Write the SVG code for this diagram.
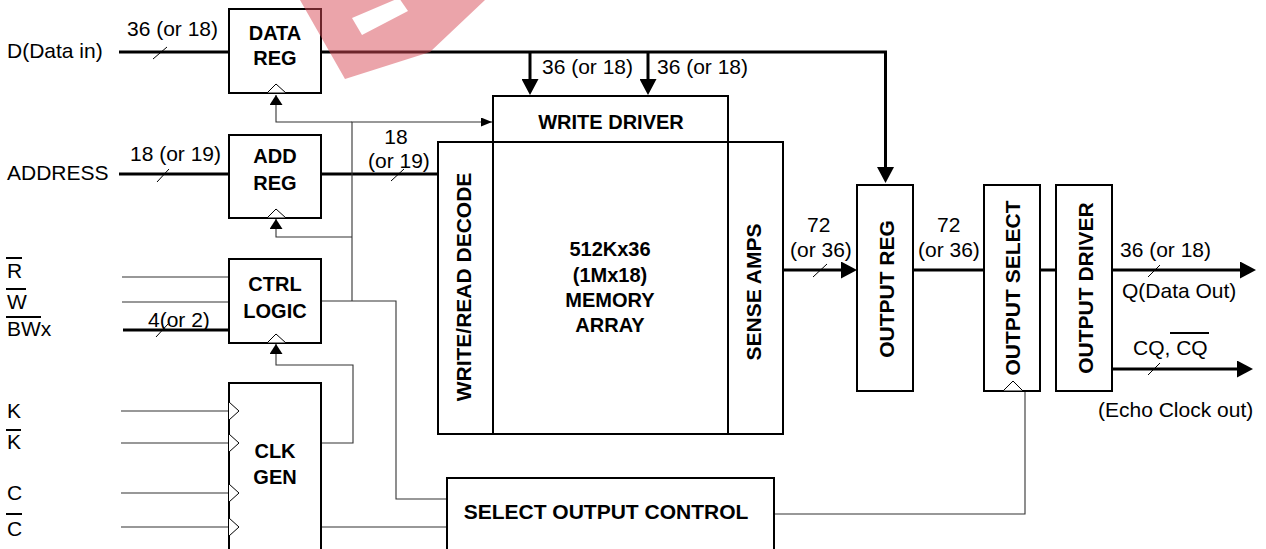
<svg xmlns="http://www.w3.org/2000/svg" width="1266" height="549" viewBox="0 0 1266 549">
<style>
text{font-family:"Liberation Sans",Arial,sans-serif;fill:#000}
.r{font-size:21px}
.b{font-size:20px;font-weight:bold;text-anchor:middle}
.v{font-size:21px;font-weight:bold;text-anchor:middle}
.box{fill:#fff;stroke:#000;stroke-width:2}
.clk{fill:#fff;stroke:#000;stroke-width:1}
.bus{fill:none;stroke:#000;stroke-width:3}
.thin{fill:none;stroke:#333;stroke-width:1.1}
.tick{stroke:#000;stroke-width:1}
.ovl{stroke:#000;stroke-width:2}
</style>
<defs>
<marker id="ahB" markerUnits="userSpaceOnUse" viewBox="0 0 16 17" refX="12" refY="8.5" markerWidth="16" markerHeight="17" orient="auto"><path d="M0,0 L16,8.5 L0,17 Z" fill="#000"/></marker>
<marker id="ahS" markerUnits="userSpaceOnUse" viewBox="0 0 11 9" refX="11" refY="4.5" markerWidth="11" markerHeight="9" orient="auto"><path d="M0,0 L11,4.5 L0,9 Z" fill="#000"/></marker>
<marker id="ahU" markerUnits="userSpaceOnUse" viewBox="0 0 10 13" refX="10" refY="6.5" markerWidth="10" markerHeight="13" orient="auto"><path d="M0,0 L10,6.5 L0,13 Z" fill="#000"/></marker>
</defs>
<rect width="1266" height="549" fill="#fff"/>

<g id="connectors">
<path class="bus" d="M119,52 H229"/>
<path class="bus" d="M119,174 H229"/>
<path class="bus" d="M123,330 H229"/>
<path class="bus" d="M321,52 H885.5 V179" marker-end="url(#ahB)"/>
<path class="bus" d="M530,52 V91" marker-end="url(#ahB)"/>
<path class="bus" d="M648,52 V91" marker-end="url(#ahB)"/>
<path class="bus" d="M321,174 H438"/>
<path class="bus" d="M783,270 H853" marker-end="url(#ahB)"/>
<path class="bus" d="M913,270 H984"/>
<path class="bus" d="M1040,270 H1056"/>
<path class="bus" d="M1112,270 H1252" marker-end="url(#ahB)"/>
<path class="bus" d="M1112,369 H1249" marker-end="url(#ahB)"/>
<path class="thin" d="M122,277 H229"/>
<path class="thin" d="M122,302 H229"/>
<path class="thin" d="M121,411 H229"/>
<path class="thin" d="M121,443 H229"/>
<path class="thin" d="M121,493 H229"/>
<path class="thin" d="M121,527 H229"/>
<path class="thin" d="M321,527 H447"/>
<path class="thin" d="M321,443 H353 V365 H276 V344" marker-end="url(#ahU)"/>
<path class="thin" d="M321,301 H396 V499 H447"/>
<path class="thin" d="M352,301 V122 H492" marker-end="url(#ahS)"/>
<path class="thin" d="M352,122 H276 V95" marker-end="url(#ahU)"/>
<path class="thin" d="M352,237 H276 V219" marker-end="url(#ahU)"/>
<path class="thin" d="M774,514 H1025 V391"/>
<line class="tick" x1="153" y1="59" x2="167" y2="47"/>
<line class="tick" x1="157" y1="182" x2="169" y2="169"/>
<line class="tick" x1="156" y1="337" x2="168" y2="324"/>
<line class="tick" x1="391" y1="181" x2="404" y2="169"/>
<line class="tick" x1="813" y1="277" x2="827" y2="264"/>
<line class="tick" x1="1148" y1="277" x2="1160" y2="265"/>
<line class="tick" x1="1148" y1="375" x2="1160" y2="363"/>
</g>

<g id="labels">
<text class="r" x="7" y="58">D(Data in)</text>
<text class="r" x="127" y="36">36 (or 18)</text>
<text class="r" x="7" y="180">ADDRESS</text>
<text class="r" x="130" y="161">18 (or 19)</text>
<text class="r" x="396" y="144" text-anchor="middle">18</text>
<text class="r" x="368" y="168">(or 19)</text>
<text class="r" x="7" y="278">R</text><line class="ovl" x1="6" y1="258" x2="22" y2="258"/>
<text class="r" x="7" y="309">W</text><line class="ovl" x1="6" y1="289" x2="26" y2="289"/>
<text class="r" x="7" y="336">BWx</text><line class="ovl" x1="6" y1="317" x2="41" y2="317"/>
<text class="r" x="148" y="327">4(or 2)</text>
<text class="r" x="7" y="418">K</text>
<text class="r" x="7" y="449">K</text><line class="ovl" x1="6" y1="430" x2="21" y2="430"/>
<text class="r" x="7" y="500">C</text>
<text class="r" x="7" y="536">C</text><line class="ovl" x1="6" y1="514" x2="22" y2="514"/>
<text class="r" x="542" y="74">36 (or 18)</text>
<text class="r" x="657" y="74">36 (or 18)</text>
<text class="r" x="807" y="232">72</text>
<text class="r" x="790" y="257">(or 36)</text>
<text class="r" x="937" y="232">72</text>
<text class="r" x="918" y="257">(or 36)</text>
<text class="r" x="1120" y="257">36 (or 18)</text>
<text class="r" x="1122" y="298">Q(Data Out)</text>
<text class="r" x="1133" y="355">CQ, CQ</text><line class="ovl" x1="1170" y1="333" x2="1209" y2="333"/>
<text class="r" x="1098" y="417">(Echo Clock out)</text>
</g>

<g id="data-reg">
<rect class="box" x="229" y="9" width="92" height="84"/>
<polygon class="clk" points="267,93 276,84 286,93"/>
<text class="b" x="275" y="40">DATA</text>
<text class="b" x="275" y="65">REG</text>
</g>
<g id="add-reg">
<rect class="box" x="229" y="135" width="92" height="83"/>
<polygon class="clk" points="267,218 276,209 286,218"/>
<text class="b" x="275" y="163">ADD</text>
<text class="b" x="275" y="190">REG</text>
</g>
<g id="ctrl-logic">
<rect class="box" x="229" y="259" width="92" height="84"/>
<polygon class="clk" points="267,343 276,334 286,343"/>
<text class="b" x="275" y="291">CTRL</text>
<text class="b" x="275" y="318">LOGIC</text>
</g>
<g id="clk-gen">
<rect class="box" x="229" y="383" width="92" height="180"/>
<polyline class="clk" fill="none" points="229,402 239,411 229,420"/>
<polyline class="clk" fill="none" points="229,434 239,443 229,452"/>
<polyline class="clk" fill="none" points="229,484 239,493 229,502"/>
<polyline class="clk" fill="none" points="229,518 239,527 229,536"/>
<text class="b" x="275" y="458">CLK</text>
<text class="b" x="275" y="484">GEN</text>
</g>
<g id="write-driver">
<rect class="box" x="493" y="96" width="235" height="46"/>
<text class="b" x="611" y="129">WRITE DRIVER</text>
</g>
<g id="write-read-decode">
<rect class="box" x="438" y="142" width="55" height="292"/>
<text class="v" transform="translate(471,287) rotate(-90)">WRITE/READ DECODE</text>
</g>
<g id="memory-array">
<rect class="box" x="493" y="142" width="235" height="292"/>
<text class="b" x="610" y="256">512Kx36</text>
<text class="b" x="610" y="282">(1Mx18)</text>
<text class="b" x="610" y="307">MEMORY</text>
<text class="b" x="610" y="332">ARRAY</text>
</g>
<g id="sense-amps">
<rect class="box" x="728" y="142" width="55" height="292"/>
<text class="v" transform="translate(761,292) rotate(-90)">SENSE AMPS</text>
</g>
<g id="output-reg">
<rect class="box" x="857" y="185" width="56" height="206"/>
<text class="v" transform="translate(894,289) rotate(-90)">OUTPUT REG</text>
</g>
<g id="output-select">
<rect class="box" x="984" y="185" width="56" height="206"/>
<polygon class="clk" points="1003,391 1013,381 1023,391"/>
<text class="v" transform="translate(1020,288) rotate(-90)">OUTPUT SELECT</text>
</g>
<g id="output-driver">
<rect class="box" x="1056" y="185" width="56" height="206"/>
<text class="v" transform="translate(1093,288) rotate(-90)">OUTPUT DRIVER</text>
</g>
<g id="select-output-control">
<rect class="box" x="447" y="478" width="327" height="90"/>
<text class="b" x="606" y="519" style="font-size:21px">SELECT OUTPUT CONTROL</text>
</g>

<g id="watermark">
<path d="M300,0 L485,0 L430,52 L345,79 Z M352,18 L399,-2 L408,11 L362,35 Z" fill="#d84a55" fill-opacity="0.5" fill-rule="evenodd"/>
</g>
</svg>
